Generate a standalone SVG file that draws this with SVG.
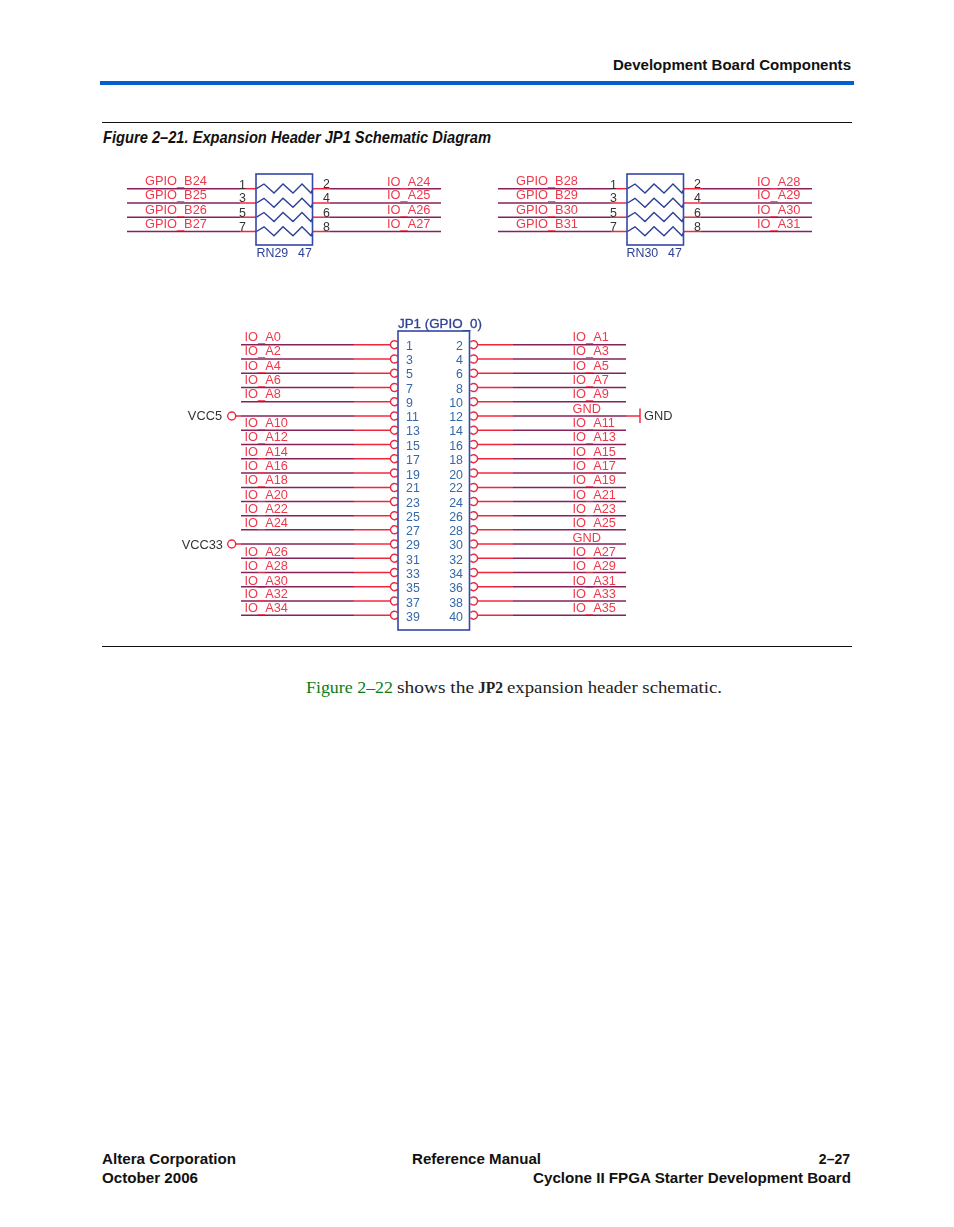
<svg xmlns="http://www.w3.org/2000/svg" width="954" height="1227" viewBox="0 0 954 1227">
<style>
.page{font-family:"Liberation Sans",Arial,sans-serif;font-weight:bold;font-size:14px;fill:#111}
.body{font-family:"Liberation Serif","Times New Roman",serif;font-size:16px;fill:#222}
.sig{font-family:"Liberation Sans",Arial,sans-serif;font-size:12.8px;fill:#f0384c}
.pin{font-family:"Liberation Sans",Arial,sans-serif;font-size:12.4px;fill:#3568a8}
.pinr{font-family:"Liberation Sans",Arial,sans-serif;font-size:12.4px;fill:#333}
.ref{font-family:"Liberation Sans",Arial,sans-serif;font-size:12.4px;fill:#2f4296}
.pwr{font-family:"Liberation Sans",Arial,sans-serif;font-size:12.8px;fill:#333}
.d{stroke:#86205a;stroke-width:1.5;fill:none}
.r{stroke:#f0283c;stroke-width:1.5;fill:none}
.box{stroke:#3447a8;stroke-width:1.6;fill:none}
.zz{stroke:#2c3f98;stroke-width:1.4;fill:none}
.c{stroke:#f0283c;stroke-width:1.4;fill:none}
</style>
<defs>
<filter id="soft" x="-2%" y="-2%" width="104%" height="104%"><feGaussianBlur stdDeviation="0.45"/></filter>
<path id="wave" d="M256.500 0L264-4.700L274 4.300L283-4.700L293 4.300L302-4.700L311 4.300L313 0"/>
<g id="lrow"><path class="d" d="M241 0H354"/><path class="r" d="M354 0H390"/><path class="c" d="M397.500-2.600A4 4 0 1 0 397.500 2.600"/></g>
<g id="rrow"><path class="c" d="M470.500-2.600A4 4 0 1 1 470.500 2.600"/><path class="r" d="M478 0H513"/><path class="d" d="M513 0H626"/></g>
<g id="rn"><path class="d" d="M127 0H240"/><path class="r" d="M240 0H256"/><use href="#wave" class="zz"/><path class="r" d="M313 0H330"/><path class="d" d="M330 0H441"/></g>
</defs>
<g id="page-frame">
<text class="page" x="851" y="70" text-anchor="end" textLength="238" lengthAdjust="spacingAndGlyphs">Development Board Components</text>
<rect x="100" y="81" width="754" height="4" fill="#0060d0"/>
<rect x="102" y="122" width="750" height="1" fill="#111"/>
<text x="103" y="143" font-family="'Liberation Sans',Arial,sans-serif" font-weight="bold" font-style="italic" font-size="17" fill="#111" textLength="388" lengthAdjust="spacingAndGlyphs">Figure 2–21. Expansion Header JP1 Schematic Diagram</text>
<rect x="102" y="646" width="750" height="1" fill="#111"/>
<text class="body" x="306" y="693" style="fill:#0a7d14" textLength="87" lengthAdjust="spacingAndGlyphs">Figure 2–22</text>
<text class="body" x="397" y="693" textLength="77" lengthAdjust="spacingAndGlyphs">shows the</text>
<text class="body" x="478" y="693" font-weight="bold" textLength="25" lengthAdjust="spacingAndGlyphs">JP2</text>
<text class="body" x="507" y="693" textLength="215" lengthAdjust="spacingAndGlyphs">expansion header schematic.</text>
<text class="page" x="102" y="1164" textLength="134" lengthAdjust="spacingAndGlyphs">Altera Corporation</text>
<text class="page" x="412" y="1164" textLength="129" lengthAdjust="spacingAndGlyphs">Reference Manual</text>
<text class="page" x="850" y="1164" text-anchor="end">2–27</text>
<text class="page" x="102" y="1183" textLength="96" lengthAdjust="spacingAndGlyphs">October 2006</text>
<text class="page" x="851" y="1183" text-anchor="end" textLength="318" lengthAdjust="spacingAndGlyphs">Cyclone II FPGA Starter Development Board</text>
</g>
<g filter="url(#soft)">
<g id="connectors">
<use href="#rn" y="188.700"/><use href="#rn" y="203"/><use href="#rn" y="217.200"/><use href="#rn" y="231.500"/>
<use href="#rn" x="371" y="188.700"/><use href="#rn" x="371" y="203"/><use href="#rn" x="371" y="217.200"/><use href="#rn" x="371" y="231.500"/>
<use href="#lrow" y="344.700"/><use href="#lrow" y="359"/><use href="#lrow" y="373.200"/><use href="#lrow" y="387.500"/><use href="#lrow" y="401.700"/><use href="#lrow" y="416"/><use href="#lrow" y="430.200"/><use href="#lrow" y="444.500"/><use href="#lrow" y="458.700"/><use href="#lrow" y="473"/><use href="#lrow" y="487.500"/><use href="#lrow" y="501.500"/><use href="#lrow" y="515.700"/><use href="#lrow" y="529.800"/><use href="#lrow" y="544"/><use href="#lrow" y="558.200"/><use href="#lrow" y="572.500"/><use href="#lrow" y="586.700"/><use href="#lrow" y="601"/><use href="#lrow" y="615.200"/>
<use href="#rrow" y="344.700"/><use href="#rrow" y="359"/><use href="#rrow" y="373.200"/><use href="#rrow" y="387.500"/><use href="#rrow" y="401.700"/><use href="#rrow" y="416"/><use href="#rrow" y="430.200"/><use href="#rrow" y="444.500"/><use href="#rrow" y="458.700"/><use href="#rrow" y="473"/><use href="#rrow" y="487.500"/><use href="#rrow" y="501.500"/><use href="#rrow" y="515.700"/><use href="#rrow" y="529.800"/><use href="#rrow" y="544"/><use href="#rrow" y="558.200"/><use href="#rrow" y="572.500"/><use href="#rrow" y="586.700"/><use href="#rrow" y="601"/><use href="#rrow" y="615.200"/>
<path class="r" d="M236 416H241M236 544H241M626 416H640"/>
<path class="r" d="M640 408.500V423"/>
<circle class="c" cx="231.700" cy="416" r="4"/>
<circle class="c" cx="231.700" cy="544" r="4"/>
</g>
<g id="RN29">
<rect class="box" x="256" y="174" width="56.500" height="71"/>
<g class="sig"><text x="145" y="185">GPIO_B24</text><text x="145" y="199">GPIO_B25</text><text x="145" y="213.500">GPIO_B26</text><text x="145" y="228">GPIO_B27</text>
<text x="387" y="185.500">IO_A24</text><text x="387" y="199">IO_A25</text><text x="387" y="213.500">IO_A26</text><text x="387" y="228">IO_A27</text></g>
<g class="pinr"><text x="239" y="188.500">1</text><text x="239" y="202">3</text><text x="239" y="216.500">5</text><text x="239" y="231">7</text>
<text x="323" y="188">2</text><text x="323" y="202">4</text><text x="323" y="216.500">6</text><text x="323" y="231">8</text></g>
<text class="ref" x="256.500" y="257">RN29</text><text class="ref" x="298" y="257">47</text>
</g>
<g id="RN30">
<rect class="box" x="627" y="174" width="56.500" height="71"/>
<g class="sig"><text x="516" y="185">GPIO_B28</text><text x="516" y="199">GPIO_B29</text><text x="516" y="213.500">GPIO_B30</text><text x="516" y="228">GPIO_B31</text>
<text x="757" y="185.500">IO_A28</text><text x="757" y="199">IO_A29</text><text x="757" y="213.500">IO_A30</text><text x="757" y="228">IO_A31</text></g>
<g class="pinr"><text x="610" y="188.500">1</text><text x="610" y="202">3</text><text x="610" y="216.500">5</text><text x="610" y="231">7</text>
<text x="694" y="188">2</text><text x="694" y="202">4</text><text x="694" y="216.500">6</text><text x="694" y="231">8</text></g>
<text class="ref" x="626.500" y="257">RN30</text><text class="ref" x="668" y="257">47</text>
</g>
<g id="JP1">
<rect class="box" x="398" y="331" width="71.500" height="299"/>
<text class="ref" x="398" y="328.300" stroke="#2f4296" stroke-width="0.3" textLength="84" lengthAdjust="spacingAndGlyphs">JP1  (GPIO_0)</text>
<g class="pin">
<text x="406" y="350">1</text><text x="406" y="364">3</text><text x="406" y="378">5</text><text x="406" y="393">7</text><text x="406" y="407">9</text><text x="406" y="421">11</text><text x="406" y="435">13</text><text x="406" y="450">15</text><text x="406" y="464">17</text><text x="406" y="479">19</text><text x="406" y="492">21</text><text x="406" y="507">23</text><text x="406" y="521">25</text><text x="406" y="535">27</text><text x="406" y="549">29</text><text x="406" y="564">31</text><text x="406" y="578">33</text><text x="406" y="592">35</text><text x="406" y="607">37</text><text x="406" y="621">39</text>
<g text-anchor="end"><text x="463" y="350">2</text><text x="463" y="364">4</text><text x="463" y="378">6</text><text x="463" y="393">8</text><text x="463" y="407">10</text><text x="463" y="421">12</text><text x="463" y="435">14</text><text x="463" y="450">16</text><text x="463" y="464">18</text><text x="463" y="479">20</text><text x="463" y="492">22</text><text x="463" y="507">24</text><text x="463" y="521">26</text><text x="463" y="535">28</text><text x="463" y="549">30</text><text x="463" y="564">32</text><text x="463" y="578">34</text><text x="463" y="592">36</text><text x="463" y="607">38</text><text x="463" y="621">40</text></g>
</g>
<g class="sig">
<text x="244.500" y="341">IO_A0</text><text x="244.500" y="355">IO_A2</text><text x="244.500" y="370">IO_A4</text><text x="244.500" y="384">IO_A6</text><text x="244.500" y="398">IO_A8</text><text x="244.500" y="427">IO_A10</text><text x="244.500" y="441">IO_A12</text><text x="244.500" y="456">IO_A14</text><text x="244.500" y="470">IO_A16</text><text x="244.500" y="484">IO_A18</text><text x="244.500" y="499">IO_A20</text><text x="244.500" y="513">IO_A22</text><text x="244.500" y="527">IO_A24</text><text x="244.500" y="556">IO_A26</text><text x="244.500" y="570">IO_A28</text><text x="244.500" y="585">IO_A30</text><text x="244.500" y="598">IO_A32</text><text x="244.500" y="612">IO_A34</text>
<text x="572.500" y="341">IO_A1</text><text x="572.500" y="355">IO_A3</text><text x="572.500" y="370">IO_A5</text><text x="572.500" y="384">IO_A7</text><text x="572.500" y="398">IO_A9</text><text x="572.500" y="413">GND</text><text x="572.500" y="427">IO_A11</text><text x="572.500" y="441">IO_A13</text><text x="572.500" y="456">IO_A15</text><text x="572.500" y="470">IO_A17</text><text x="572.500" y="484">IO_A19</text><text x="572.500" y="499">IO_A21</text><text x="572.500" y="513">IO_A23</text><text x="572.500" y="527">IO_A25</text><text x="572.500" y="542">GND</text><text x="572.500" y="556">IO_A27</text><text x="572.500" y="570">IO_A29</text><text x="572.500" y="585">IO_A31</text><text x="572.500" y="598">IO_A33</text><text x="572.500" y="612">IO_A35</text>
</g>
</g>
<g id="VCC5"><text class="pwr" x="222" y="420" text-anchor="end">VCC5</text></g>
<g id="VCC33"><text class="pwr" x="223" y="549" text-anchor="end">VCC33</text></g>
<g id="GND"><text class="pwr" x="644" y="420">GND</text></g>
</g>
</svg>
